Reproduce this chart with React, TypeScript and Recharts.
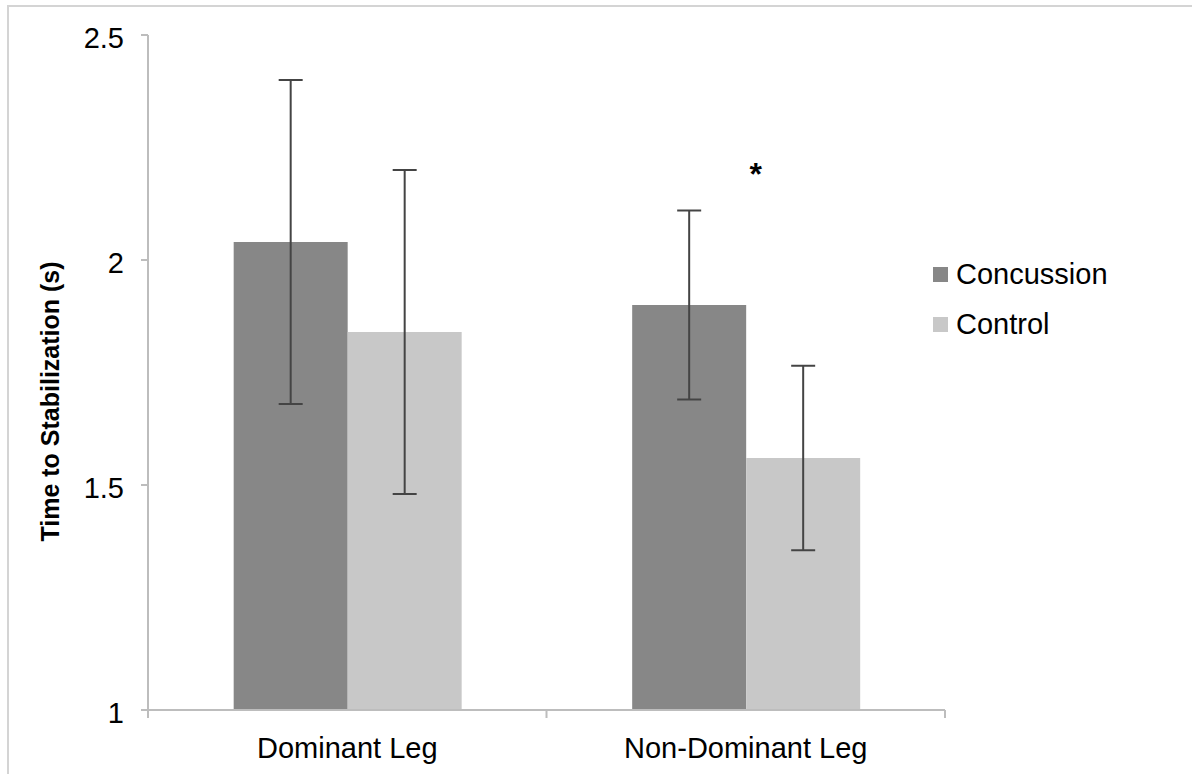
import { BarChart, Bar, XAxis, YAxis, ErrorBar, ReferenceDot } from "recharts";

const categories = ["Dominant Leg", "Non-Dominant Leg"];
const concussion = [2.04, 1.9];
const concussionErr = [0.36, 0.21];
const control = [1.84, 1.56];
const controlErr = [0.36, 0.205];
const yTicks = [1, 1.5, 2, 2.5];
const sigCategory = "Non-Dominant Leg";
const sigY = 2.2;

const data = categories.map((name, i) => ({
  name,
  concussion: concussion[i],
  concussionErr: concussionErr[i],
  control: control[i],
  controlErr: controlErr[i],
}));

const FONT = "'Liberation Sans', Arial, Helvetica, sans-serif";
const W = 1192;
const H = 774;
const MARGIN = { top: 35, right: 247, bottom: 34, left: 0 };
const Y_W = 148;
const BAND = (W - MARGIN.left - MARGIN.right - Y_W) / categories.length;
const AXIS = "#bdbdbd";

function CategoryTick(props: any) {
  const { x, y, payload, index } = props;
  const half = BAND / 2;
  return (
    <g>
      <line x1={x - half} x2={x - half} y1={y - 8} y2={y} stroke={AXIS} strokeWidth={2} />
      {index === categories.length - 1 && (
        <line x1={x + half} x2={x + half} y1={y - 8} y2={y} stroke={AXIS} strokeWidth={2} />
      )}
      <text x={x} y={y + 40} textAnchor="middle" fontSize={29} fontFamily={FONT} fill="#000">
        {payload.value}
      </text>
    </g>
  );
}

function LegendBox() {
  const items = [
    { label: "Concussion", color: "#878787" },
    { label: "Control", color: "#c8c8c8" },
  ];
  return (
    <div style={{ position: "absolute", left: 933, top: 249, fontFamily: FONT }}>
      {items.map((it) => (
        <div key={it.label} style={{ display: "flex", alignItems: "center", height: 50 }}>
          <div style={{ width: 15, height: 15, background: it.color, marginRight: 8 }} />
          <span style={{ fontSize: 29, color: "#000" }}>{it.label}</span>
        </div>
      ))}
    </div>
  );
}

export default function App() {
  return (
    <div style={{ position: "absolute", left: 0, top: 0, width: W, height: H, background: "#fff", overflow: "hidden" }}>
      <div
        style={{
          position: "absolute",
          left: 7,
          top: 5,
          right: -10,
          bottom: -10,
          borderTop: "2px solid #d4d4d4",
          borderLeft: "2px solid #d4d4d4",
        }}
      />
      <BarChart
        width={W}
        height={H}
        data={data}
        margin={MARGIN}
        barCategoryGap="21.5%"
        barGap={0}
        style={{ position: "absolute", left: 0, top: 0 }}
      >
        <XAxis
          dataKey="name"
          height={30}
          tickLine={false}
          tickSize={8}
          tickMargin={0}
          axisLine={{ stroke: AXIS, strokeWidth: 2 }}
          tick={<CategoryTick />}
          interval={0}
        />
        <YAxis
          width={Y_W}
          domain={[1, 2.5]}
          ticks={yTicks}
          allowDataOverflow
          tickSize={7}
          tickMargin={17}
          axisLine={{ stroke: AXIS, strokeWidth: 2 }}
          tickLine={{ stroke: AXIS, strokeWidth: 2 }}
          tick={{ fontSize: 29, fontFamily: FONT, fill: "#000", dy: 3 }}
          label={{
            content: ({ viewBox }: any) => {
              const cx = viewBox.x + 50;
              const cy = viewBox.y + viewBox.height / 2 + 29;
              return (
                <text
                  x={cx}
                  y={cy}
                  transform={`rotate(-90 ${cx} ${cy})`}
                  textAnchor="middle"
                  dominantBaseline="central"
                  fontSize={25}
                  fontWeight="bold"
                  fontFamily={FONT}
                  fill="#000"
                >
                  Time to Stabilization (s)
                </text>
              );
            },
          }}
        />
        <Bar dataKey="concussion" fill="#878787" isAnimationActive={false}>
          <ErrorBar dataKey="concussionErr" width={12} strokeWidth={2} stroke="#444" direction="y" />
        </Bar>
        <Bar dataKey="control" fill="#c8c8c8" isAnimationActive={false}>
          <ErrorBar dataKey="controlErr" width={12} strokeWidth={2} stroke="#444" direction="y" />
        </Bar>
        <ReferenceDot
          x={sigCategory}
          y={sigY}
          r={0}
          fill="none"
          stroke="none"
          label={{
            value: "*",
            position: "center",
            dx: 10,
            dy: 4,
            fontSize: 32,
            fontWeight: "bold",
            fontFamily: FONT,
            fill: "#000",
          }}
        />
      </BarChart>
      <LegendBox />
    </div>
  );
}
